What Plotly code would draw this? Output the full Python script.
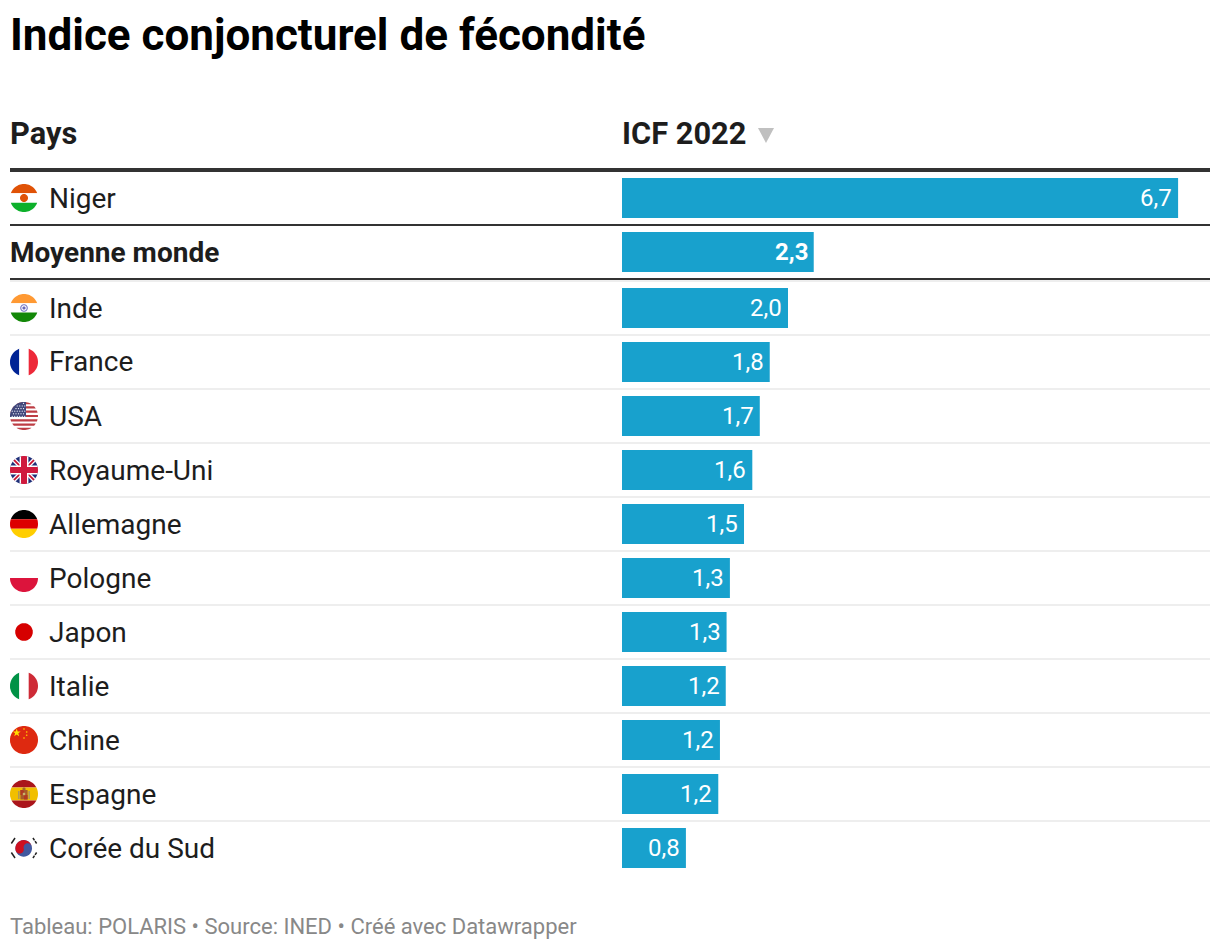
import math
import plotly.graph_objects as go

# ---------- data ----------
title_text = "Indice conjoncturel de fécondité"
col_country = "Pays"
col_value = "ICF 2022"
footer_text = "Tableau: POLARIS • Source: INED • Créé avec Datawrapper"
countries = ["Niger", "Moyenne monde", "Inde", "France", "USA", "Royaume-Uni", "Allemagne",
             "Pologne", "Japon", "Italie", "Chine", "Espagne", "Corée du Sud"]
icf = [6.70, 2.31, 2.00, 1.78, 1.66, 1.57, 1.47, 1.30, 1.26, 1.25, 1.18, 1.16, 0.77]

# ---------- layout constants ----------
W, H = 1220, 950
BAR_LEFT, TABLE_RIGHT, TABLE_LEFT = 622, 1210, 10
PX_PER_UNIT = 83
ROW0, ROW_STEP, EXTRA_GAP = 198, 54, 2
row_y = [ROW0 + i * ROW_STEP + (EXTRA_GAP if i >= 2 else 0) for i in range(len(countries))]
INK = "#1d1d1d"
BAR = "#18a1cd"
FLAG_CX = 24
FLAG_R = 14


def px(x): return x / W
def py(y): return 1 - y / H


shapes = []
annotations = []


def text(x, y, s, size, color=INK, bold=False, anchor="left"):
    annotations.append(dict(
        x=px(x), y=py(y), xref="paper", yref="paper", text=f"<b>{s}</b>" if bold else s,
        showarrow=False, xanchor=anchor, yanchor="middle", borderpad=0, xshift=-1,
        font=dict(family="Roboto", size=size, color=color, weight=700 if bold else 400),
    ))


def hline(y0, y1, color):
    shapes.append(dict(type="rect", xref="paper", yref="paper", layer="above",
                       x0=px(TABLE_LEFT), x1=px(TABLE_RIGHT), y0=py(y0), y1=py(y1),
                       fillcolor=color, line=dict(width=0)))


CIRCLE = [(FLAG_R * math.cos(2 * math.pi * k / 72), FLAG_R * math.sin(2 * math.pi * k / 72)) for k in range(72)]


def clip_to_flag(poly):
    """Sutherland-Hodgman clip of a polygon against the circular flag outline."""
    out = list(poly)
    n = len(CIRCLE)
    for i in range(n):
        ax, ay = CIRCLE[i]
        bx, by = CIRCLE[(i + 1) % n]
        def side(p): return (bx - ax) * (p[1] - ay) - (by - ay) * (p[0] - ax)
        inp, out = out, []
        for j in range(len(inp)):
            p, q = inp[j], inp[(j + 1) % len(inp)]
            sp, sq = side(p), side(q)
            if sp >= 0:
                out.append(p)
            if (sp >= 0) != (sq >= 0):
                t = sp / (sp - sq)
                out.append((p[0] + t * (q[0] - p[0]), p[1] + t * (q[1] - p[1])))
        if not out:
            return []
    return out


def poly(cy, pts, color, clip=True, cx=FLAG_CX):
    pts = clip_to_flag(pts) if clip else pts
    if not pts:
        return
    path = "M" + " L".join(f"{px(cx + a):.5f},{py(cy + b):.5f}" for a, b in pts) + " Z"
    shapes.append(dict(type="path", xref="paper", yref="paper", layer="above", path=path,
                       fillcolor=color, line=dict(width=0)))


def rect(cy, x0, y0, x1, y1, color, clip=True):
    poly(cy, [(x0, y0), (x1, y0), (x1, y1), (x0, y1)], color, clip)


def disc(cy, x, y, r, color, cx=FLAG_CX):
    pts = [(x + r * math.cos(2 * math.pi * k / 32), y + r * math.sin(2 * math.pi * k / 32)) for k in range(32)]
    poly(cy, pts, color, clip=False)


def star(cy, x, y, r, color):
    pts = []
    for k in range(10):
        a = -math.pi / 2 + k * math.pi / 5
        rr = r if k % 2 == 0 else r * 0.4
        pts.append((x + rr * math.cos(a), y + rr * math.sin(a)))
    poly(cy, pts, color, clip=False)


def bands_h(cy, edges, colors):
    for i, c in enumerate(colors):
        rect(cy, -15, edges[i], 15, edges[i + 1], c)


def bands_v(cy, edges, colors):
    for i, c in enumerate(colors):
        rect(cy, edges[i], -15, edges[i + 1], 15, c)


def flag_niger(cy):
    bands_h(cy, [-15, -4.7, 4.7, 15], ["#e05206", "#ffffff", "#0db02b"])
    disc(cy, 0, 0, 4, "#e05206")


def flag_inde(cy):
    bands_h(cy, [-15, -4.7, 4.5, 15], ["#ff9933", "#ffffff", "#138808"])
    disc(cy, 0, 0, 3.8, "#7c7cc4")
    disc(cy, 0, 0, 2.7, "#ffffff")
    disc(cy, 0, 0, 1.6, "#6a6ab8")


def flag_france(cy):
    bands_v(cy, [-15, -4.7, 4.7, 15], ["#002395", "#ffffff", "#ed2939"])


def flag_usa(cy):
    rect(cy, -15, -15, 15, 15, "#ffffff")
    for k in range(7):
        y0 = -14 + k * 4.31
        rect(cy, -15, y0, 15, y0 + 2.15, "#bd3d44")
    rect(cy, -15, -15, 2, 1.1, "#41477b")
    for r in range(6):
        for c in range(7):
            a, b = -13 + c * 2.5 + (1.25 if r % 2 else 0), -12.6 + r * 2.6
            if a * a + b * b < 165 and a < 1.6:
                disc(cy, a, b, 0.62, "#eef0f8")


def flag_uk(cy):
    rect(cy, -15, -15, 15, 15, "#1f2f78")
    w = 3.1
    poly(cy, [(-15, -15 + w), (-15 + w, -15), (15, 15 - w), (15 - w, 15)], "#ffffff")
    poly(cy, [(15, -15 + w), (15 - w, -15), (-15, 15 - w), (-15 + w, 15)], "#ffffff")
    w = 1.2
    poly(cy, [(-15, -15 + w), (-15 + w, -15), (15, 15 - w), (15 - w, 15)], "#c8102e")
    poly(cy, [(15, -15 + w), (15 - w, -15), (-15, 15 - w), (-15 + w, 15)], "#c8102e")
    rect(cy, -15, -4.4, 15, 4.4, "#ffffff")
    rect(cy, -4.4, -15, 4.4, 15, "#ffffff")
    rect(cy, -15, -3, 15, 3, "#cf1a3d")
    rect(cy, -3, -15, 3, 15, "#cf1a3d")


def flag_allemagne(cy):
    bands_h(cy, [-15, -4.7, 4.7, 15], ["#000000", "#dd0000", "#ffce00"])


def flag_pologne(cy):
    rect(cy, -15, 0, 15, 15, "#dc143c")


def flag_japon(cy):
    disc(cy, 0, 0, 8.8, "#d60000")


def flag_italie(cy):
    bands_v(cy, [-15, -4.7, 4.7, 15], ["#009246", "#ffffff", "#ce2b37"])


def flag_chine(cy):
    rect(cy, -15, -15, 15, 15, "#de2910")
    star(cy, -7.3, -7.2, 4.2, "#ffde00")
    for a, b in [(0, -11), (2.7, -8), (2.7, -4.8), (0, -2)]:
        disc(cy, a, b, 0.8, "#ffc000")


def flag_espagne(cy):
    bands_h(cy, [-15, -6.6, 6.6, 15], ["#aa151b", "#f1bf00", "#aa151b"])
    rect(cy, -6, -3, -4.4, 5, "#b09a5a", clip=False)
    rect(cy, 4.4, -3, 6, 5, "#b09a5a", clip=False)
    rect(cy, -3.6, -4, 3.6, 5.5, "#a85a2a", clip=False)
    rect(cy, -3.6, -4, 0, 1, "#b03a22", clip=False)
    rect(cy, 0, 1, 3.6, 5.5, "#b03a22", clip=False)
    rect(cy, -1.2, -1.2, 1.2, 1.2, "#c9b36a", clip=False)
    disc(cy, 0, -5, 1.6, "#a06a2a")


def flag_coree(cy):
    R, a0 = 8.3, math.radians(-14)
    n = 24
    ox, oy = -0.3, 0.4
    disc(cy, ox, oy, R, "#41589f")
    rot = lambda x, y: (x * math.cos(a0) - y * math.sin(a0) + ox, x * math.sin(a0) + y * math.cos(a0) + oy)
    top = []
    for k in range(n + 1):
        t = math.pi + math.pi * k / n
        top.append(rot(R * math.cos(t), R * math.sin(t)))
    for k in range(1, n + 1):
        t = -math.pi * k / n
        top.append(rot(R / 2 + R / 2 * math.cos(t), R / 2 * math.sin(t)))
    for k in range(1, n):
        t = math.pi * k / n
        top.append(rot(-R / 2 + R / 2 * math.cos(t), R / 2 * math.sin(t)))
    poly(cy, top, "#cd1020", clip=False)
    for dx, dy, broken in [(-1, -1, False), (1, -1, True), (-1, 1, False), (1, 1, True)]:
        ang = math.atan2(dy * 7.5, dx * 11.2)
        ux, uy = math.cos(ang), math.sin(ang)
        tx, ty = -uy, ux
        spans = [(-3.3, -0.5), (0.5, 3.3)] if broken else [(-3.3, 3.3)]
        for s0, s1 in spans:
            mx, my = ux * 13, uy * 13
            ht = 0.75
            poly(cy, [(mx + tx * s1 + ux * ht, my + ty * s1 + uy * ht),
                      (mx + tx * s0 + ux * ht, my + ty * s0 + uy * ht),
                      (mx + tx * s0 - ux * ht, my + ty * s0 - uy * ht),
                      (mx + tx * s1 - ux * ht, my + ty * s1 - uy * ht)], "#222222", clip=False)


flag_painters = {"Niger": flag_niger, "Inde": flag_inde, "France": flag_france, "USA": flag_usa,
                 "Royaume-Uni": flag_uk, "Allemagne": flag_allemagne, "Pologne": flag_pologne,
                 "Japon": flag_japon, "Italie": flag_italie, "Chine": flag_chine,
                 "Espagne": flag_espagne, "Corée du Sud": flag_coree}

# ---------- static text ----------
text(TABLE_LEFT, 35, title_text, 44, color="#000000", bold=True)
text(TABLE_LEFT, 134, col_country, 30.8, bold=True)
text(BAR_LEFT, 134, col_value, 30.8, bold=True)
poly(0, [(758, 128), (774, 128), (766, 143)], "#c0c0c0", clip=False, cx=0)
text(TABLE_LEFT, 926.5, footer_text, 22, color="#888888")

# ---------- rules ----------
hline(168, 172, "#333333")
hline(224, 226, "#333333")
hline(278, 280, "#333333")
hline(280, 282, "#eeeeee")
for y in row_y[2:-1]:
    hline(y + 26, y + 28, "#eeeeee")

# ---------- rows ----------
for i, (name, v, y) in enumerate(zip(countries, icf, row_y)):
    is_avg = name == "Moyenne monde"
    text(TABLE_LEFT if is_avg else 49, y, name, 28, bold=is_avg)
    if name in flag_painters:
        flag_painters[name](y)
    annotations.append(dict(
        x=v, y=y, xref="x", yref="y", xanchor="right", yanchor="middle", xshift=-5, showarrow=False, borderpad=0,
        text=(f"<b>{v:.1f}</b>" if is_avg else f"{v:.1f}").replace(".", ","),
        font=dict(family="Roboto", size=24, color="#ffffff", weight=700 if is_avg else 400),
    ))

fig = go.Figure(go.Bar(
    x=icf, y=row_y, orientation="h", width=40,
    marker=dict(color=BAR, line=dict(width=0)),
    customdata=countries, hovertemplate="%{customdata}: %{x}<extra></extra>",
))
fig.update_layout(
    width=W, height=H, margin=dict(l=0, r=0, t=0, b=0, pad=0), showlegend=False,
    paper_bgcolor="#ffffff", plot_bgcolor="#ffffff",
    xaxis=dict(domain=[BAR_LEFT / W, TABLE_RIGHT / W], range=[0, (TABLE_RIGHT - BAR_LEFT) / PX_PER_UNIT],
               visible=False, fixedrange=True),
    yaxis=dict(domain=[0, 1], range=[H, 0], visible=False, fixedrange=True),
    shapes=shapes, annotations=annotations, font=dict(family="Roboto"),
)
fig.write_html("out.html", config=dict(displayModeBar=False),
               post_script="document.body.style.margin='0';document.body.style.overflow='hidden';")
